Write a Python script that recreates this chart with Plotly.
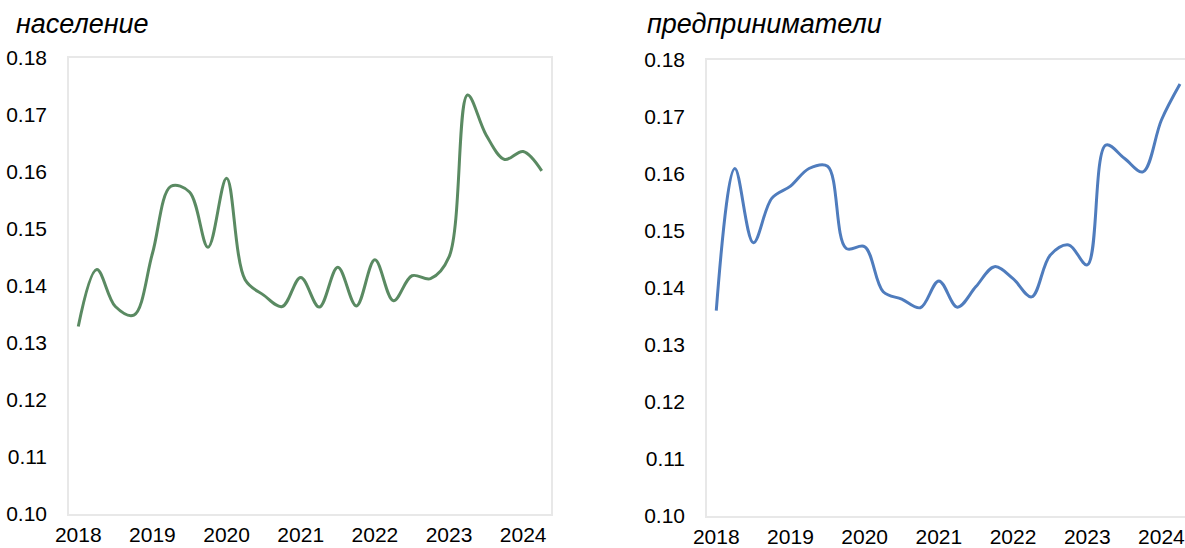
import plotly.graph_objects as go

W, H = 1185, 548

year_labels = ["2018", "2019", "2020", "2021", "2022", "2023", "2024"]
quarters = list(range(26))  # 2018Q1 .. 2024Q2

households = [0.1329, 0.1429, 0.1364, 0.1349, 0.1457, 0.1575, 0.1565, 0.1468,
              0.1589, 0.1411, 0.1384, 0.1364, 0.1415, 0.1363, 0.1433, 0.1365,
              0.1446, 0.1374, 0.1418, 0.1413, 0.1451, 0.1735, 0.1665, 0.1622,
              0.1636, 0.1602]

entrepreneurs = [0.1360, 0.1609, 0.1479, 0.1557, 0.1578, 0.1609, 0.1613, 0.1469,
                 0.1472, 0.1393, 0.1380, 0.1365, 0.1412, 0.1366, 0.1402, 0.1437,
                 0.1416, 0.1384, 0.1457, 0.1475, 0.1440, 0.1650, 0.1627, 0.1603,
                 0.1694, 0.1757]

subtitles = ["население", "предприниматели"]

FONT = "Liberation Sans, Arial, sans-serif"
GREEN = "#5a8a62"
BLUE = "#4f7cbd"
BORDER = "#e8e8e8"

fig = go.Figure()
fig.add_trace(go.Scatter(x=quarters, y=households, mode="lines",
                         line=dict(color=GREEN, width=3, shape="spline", smoothing=1.0),
                         xaxis="x", yaxis="y", showlegend=False, hoverinfo="skip"))
fig.add_trace(go.Scatter(x=quarters, y=entrepreneurs, mode="lines",
                         line=dict(color=BLUE, width=3, shape="spline", smoothing=1.0),
                         xaxis="x2", yaxis="y2", showlegend=False, hoverinfo="skip"))

tickvals = [4 * i for i in range(len(year_labels))]

def xax(domain, rng, anchor, mirror):
    return dict(domain=domain, range=rng, anchor=anchor, tickmode="array",
                tickvals=tickvals, ticktext=year_labels, showgrid=False,
                zeroline=False, showline=True, linecolor=BORDER, linewidth=1.5,
                mirror=mirror, ticks="outside", ticklen=1, tickcolor="rgba(0,0,0,0)",
                tickfont=dict(family=FONT, size=21, color="#000"), fixedrange=True,
                automargin=False, ticklabeloverflow="allow")

def yax(domain, anchor, mirror):
    return dict(domain=domain, range=[0.10, 0.18], anchor=anchor, dtick=0.01,
                tick0=0.10, tickformat=".2f", showgrid=False, zeroline=False,
                showline=True, linecolor=BORDER, linewidth=1.5, mirror=mirror,
                ticks="outside", ticklen=16, tickcolor="rgba(0,0,0,0)",
                tickfont=dict(family=FONT, size=21, color="#000"), fixedrange=True,
                automargin=False)

fig.update_layout(
    width=W, height=H,
    margin=dict(l=0, r=0, t=0, b=0),
    paper_bgcolor="white", plot_bgcolor="white",
    xaxis=xax([69 / W, 551 / W], [-0.5, 25.5], "y", True),
    yaxis=yax([(H - 514) / H, (H - 58) / H], "x", True),
    xaxis2=xax([707 / W, 1.0], [-0.5, 25.27], "y2", "allticks"),
    yaxis2=yax([(H - 516) / H, (H - 59.5) / H], "x2", False),
    annotations=[
        dict(text="<i>" + subtitles[0] + "</i>", x=14 / W, y=1 - 24 / H,
             xref="paper", yref="paper", xanchor="left", yanchor="middle",
             showarrow=False, font=dict(family=FONT, size=27, color="#000")),
        dict(text="<i>" + subtitles[1] + "</i>", x=645 / W, y=1 - 24 / H,
             xref="paper", yref="paper", xanchor="left", yanchor="middle",
             showarrow=False, font=dict(family=FONT, size=27, color="#000")),
    ],
)

fig.write_html("out.html",
               post_script="document.body.style.margin='0';document.body.style.overflow='hidden';")
